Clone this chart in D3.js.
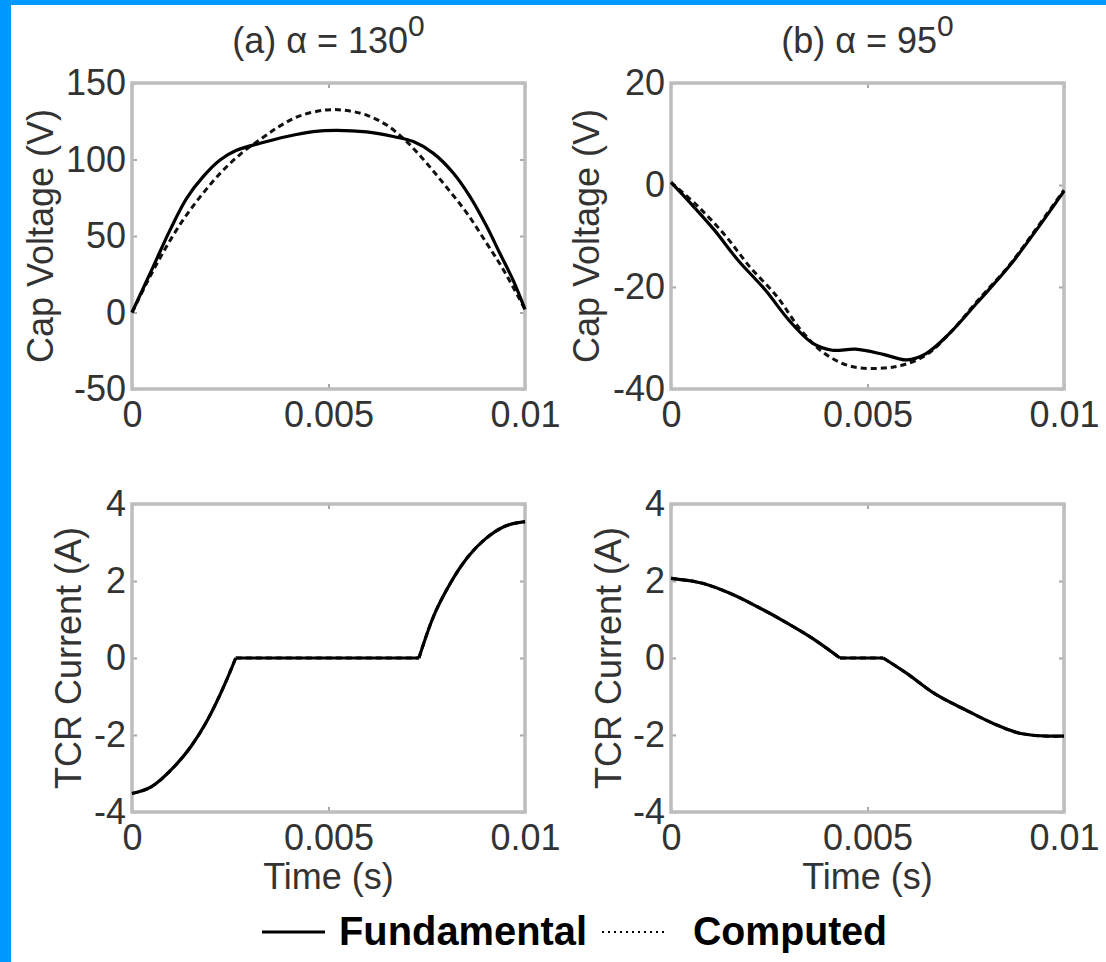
<!DOCTYPE html>
<html lang="en">
<head>
<meta charset="UTF-8">
<title>TCR waveforms</title>
<script src="https://cdn.jsdelivr.net/npm/d3@7/dist/d3.min.js"></script>
<style>
  body { margin: 0; background: #fff; }
  svg { display: block; }
  text { font-family: "Liberation Sans", Arial, sans-serif; }
  .axis .domain { display: none; }
  .axis .tick line { stroke: #a9a9a9; stroke-width: 2; }
  .axis .tick text { fill: #333; font-size: 36px; }
  .label { fill: #333; font-size: 36px; }
  .legend { fill: #000; font-size: 40px; font-weight: bold; }
</style>
</head>
<body>
<div id="container"></div>
<script>
// time ticks shared by all panels
var timeTicks = [0, 0.005, 0.01];

// (a) alpha = 130 deg, capacitor voltage
var tFundA = [0, 0.00054, 0.00097, 0.00139, 0.00181, 0.00224, 0.00266, 0.00326, 0.00394, 0.00461, 0.0052, 0.00597, 0.00665, 0.00716, 0.00767, 0.00818, 0.0086, 0.00903, 0.00936, 0.0097, 0.01];
var vFundA = [0, 30, 54, 74.6, 88.8, 99.7, 106, 110.6, 115, 118.2, 119, 118, 115, 111.7, 104, 91, 75.7, 56, 38.7, 21, 2];
var tCompA = [0, 0.00037, 0.0008, 0.0013, 0.00181, 0.00232, 0.00283, 0.00334, 0.00377, 0.00427, 0.00495, 0.00546, 0.00597, 0.00648, 0.00699, 0.0075, 0.008, 0.00852, 0.00903, 0.00945, 0.01];
var vCompA = [0, 19, 39.7, 60.5, 78, 93, 105, 114.5, 122, 128.5, 132.4, 132, 129, 122.5, 111.7, 97.5, 82, 65, 45, 28, 2];
var capTicksA = [-50, 0, 50, 100, 150];

// (b) alpha = 95 deg, capacitor voltage
var tFundB = [0, 0.0005, 0.0011, 0.0017, 0.0024, 0.003, 0.0036, 0.0041, 0.0047, 0.0054, 0.006, 0.0065, 0.0071, 0.0078, 0.0086, 0.0093, 0.01];
var vFundB = [0.5, -3.6, -8.8, -14.7, -20.6, -26.5, -31, -32.4, -32.2, -33.2, -34.3, -33, -29, -23, -16, -8.8, -1.2];
var tCompB = [0, 0.0007, 0.0014, 0.002, 0.0027, 0.0033, 0.0039, 0.0046, 0.0054, 0.0059, 0.0065, 0.0071, 0.0078, 0.0086, 0.0093, 0.01];
var vCompB = [0.5, -4.3, -10.1, -16, -21.9, -28.4, -33, -35.6, -35.9, -35.3, -33.3, -29, -22.7, -15.8, -8.5, -1];
var capTicksB = [-40, -20, 0, 20];

// TCR current, (a) and (b); conduction stops/starts at the break times
var tCurC = [0, 0.0005, 0.001, 0.0015, 0.0019, 0.00237, 0.00264, 0.0073, 0.00764, 0.0081, 0.00855, 0.009, 0.00946, 0.01];
var iCurC = [-3.52, -3.34, -2.9, -2.3, -1.65, -0.66, 0, 0, 1.0, 1.94, 2.63, 3.1, 3.41, 3.54];
var breaksC = [0.00264, 0.0073];
var tCurD = [0, 0.0008, 0.0015, 0.0022, 0.0029, 0.0036, 0.0043, 0.0054, 0.006, 0.0067, 0.0075, 0.0082, 0.0089, 0.0096, 0.01];
var iCurD = [2.07, 1.94, 1.68, 1.33, 0.94, 0.51, 0, 0, -0.4, -0.92, -1.35, -1.7, -1.96, -2.03, -2.03];
var breaksD = [0.0043, 0.0054];
var curTicks = [-4, -2, 0, 2, 4];

var zipT = function(t, v) { return t.map(function(d, i) { return [d, v[i]]; }); };

// cut a series into pieces at the break times so the corners stay sharp
function splitAt(pts, breaks) {
  var segs = [], cur = [];
  pts.forEach(function(pt) {
    cur.push(pt);
    if (breaks.indexOf(pt[0]) >= 0 && cur.length > 1) {
      segs.push(cur);
      cur = [pt];
    }
  });
  if (cur.length > 1) segs.push(cur);
  return segs;
}

var width = 1106, height = 962;

var smooth = d3.curveCatmullRom.alpha(0.5);

var panels = [
  { x0: 132, x1: 525, y0: 83, y1: 389, dom: [-50, 150], ticks: capTicksA,
    title: ["(a) \u03b1 = 130", "0"], ylab: "Cap Voltage (V)", labX: 53,
    fund: zipT(tFundA, vFundA), comp: zipT(tCompA, vCompA), breaks: [], curve: smooth },
  { x0: 671, x1: 1064, y0: 83, y1: 389, dom: [-40, 20], ticks: capTicksB,
    title: ["(b) \u03b1 = 95", "0"], ylab: "Cap Voltage (V)", labX: 599,
    fund: zipT(tFundB, vFundB), comp: zipT(tCompB, vCompB), breaks: [], curve: smooth },
  { x0: 132, x1: 525, y0: 504, y1: 812, dom: [-4, 4], ticks: curTicks,
    ylab: "TCR Current (A)", labX: 81, xlab: "Time (s)",
    fund: zipT(tCurC, iCurC), comp: zipT(tCurC, iCurC), breaks: breaksC, curve: d3.curveMonotoneX },
  { x0: 671, x1: 1064, y0: 504, y1: 812, dom: [-4, 4], ticks: curTicks,
    ylab: "TCR Current (A)", labX: 621, xlab: "Time (s)",
    fund: zipT(tCurD, iCurD), comp: zipT(tCurD, iCurD), breaks: breaksD, curve: d3.curveMonotoneX }
];

var svg = d3.select("#container").append("svg")
    .attr("width", width)
    .attr("height", height);

svg.append("rect").attr("width", width).attr("height", height).attr("fill", "#fff");
// blue frame on the left and top
svg.append("rect").attr("x", 0).attr("y", 0).attr("width", 11).attr("height", height).attr("fill", "#0099ff");
svg.append("rect").attr("x", 0).attr("y", 0).attr("width", width).attr("height", 5).attr("fill", "#0099ff");

panels.forEach(function(p) {
  var x = d3.scaleLinear().domain([0, 0.01]).range([p.x0, p.x1]);
  var y = d3.scaleLinear().domain(p.dom).range([p.y1, p.y0]);
  var fmt = function(d) { return String(d); };

  svg.append("g").attr("class", "axis")
      .attr("transform", "translate(0," + p.y1 + ")")
      .call(d3.axisBottom(x).tickValues(timeTicks).tickFormat(fmt).tickSize(-5).tickPadding(12));
  svg.append("g").attr("class", "axis")
      .attr("transform", "translate(0," + p.y0 + ")")
      .call(d3.axisTop(x).tickValues(timeTicks).tickFormat("").tickSize(-5));
  svg.append("g").attr("class", "axis")
      .attr("transform", "translate(" + p.x0 + ",0)")
      .call(d3.axisLeft(y).tickValues(p.ticks).tickFormat(fmt).tickSize(-5).tickPadding(6));
  svg.append("g").attr("class", "axis")
      .attr("transform", "translate(" + p.x1 + ",0)")
      .call(d3.axisRight(y).tickValues(p.ticks).tickFormat("").tickSize(-5));

  svg.append("rect")
      .attr("x", p.x0).attr("y", p.y0)
      .attr("width", p.x1 - p.x0).attr("height", p.y1 - p.y0)
      .attr("fill", "none").attr("stroke", "#bdbdbd").attr("stroke-width", 3.5);

  var line = d3.line()
      .x(function(d) { return x(d[0]); })
      .y(function(d) { return y(d[1]); })
      .curve(p.curve);

  svg.append("g").selectAll("path")
      .data(splitAt(p.comp, p.breaks))
      .enter().append("path")
        .attr("d", line).attr("fill", "none")
        .attr("stroke", "#111").attr("stroke-width", 3)
        .attr("stroke-dasharray", "6,4");
  svg.append("g").selectAll("path")
      .data(splitAt(p.fund, p.breaks))
      .enter().append("path")
        .attr("d", line).attr("fill", "none")
        .attr("stroke", "#000").attr("stroke-width", 3.2)
        .attr("stroke-linejoin", "round");

  var cy = (p.y0 + p.y1) / 2, cx = (p.x0 + p.x1) / 2;
  svg.append("text").attr("class", "label")
      .attr("transform", "translate(" + p.labX + "," + cy + ") rotate(-90)")
      .attr("text-anchor", "middle")
      .text(p.ylab);

  if (p.xlab) {
    svg.append("text").attr("class", "label")
        .attr("x", cx).attr("y", p.y1 + 77)
        .attr("text-anchor", "middle")
        .text(p.xlab);
  }
  if (p.title) {
    var t = svg.append("text").attr("class", "label")
        .attr("x", cx).attr("y", 53)
        .attr("text-anchor", "middle");
    t.append("tspan").text(p.title[0]);
    t.append("tspan").attr("dy", -17).style("font-size", "30px").text(p.title[1]);
  }
});

// legend
var leg = svg.append("g");
leg.append("line").attr("x1", 262).attr("x2", 325).attr("y1", 932).attr("y2", 932)
    .attr("stroke", "#000").attr("stroke-width", 3);
leg.append("text").attr("class", "legend").attr("x", 339).attr("y", 945)
    .attr("textLength", 248).attr("lengthAdjust", "spacingAndGlyphs")
    .text("Fundamental");
leg.append("line").attr("x1", 602).attr("x2", 666).attr("y1", 932).attr("y2", 932)
    .attr("stroke", "#000").attr("stroke-width", 2).attr("stroke-dasharray", "2,4");
leg.append("text").attr("class", "legend").attr("x", 693).attr("y", 945)
    .attr("textLength", 194).attr("lengthAdjust", "spacingAndGlyphs")
    .text("Computed");
</script>
</body>
</html>
